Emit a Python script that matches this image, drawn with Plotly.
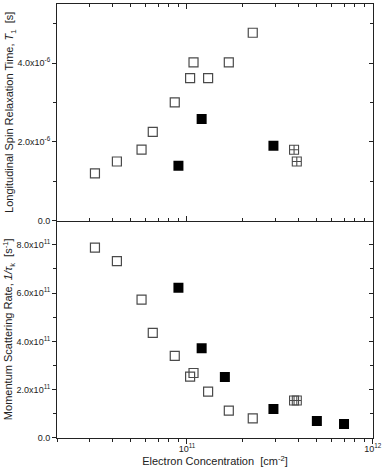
import plotly.graph_objects as go

# electron concentration [cm^-2]
n_open = [3.2e10, 4.2e10, 5.7e10, 6.55e10, 8.6e10, 1.04e11, 1.085e11, 1.3e11, 1.68e11, 2.26e11]
n_filled_t1 = [9.0e10, 1.2e11, 2.92e11]
n_cross = [3.77e11, 3.9e11]
n_filled_rate = [9.0e10, 1.2e11, 1.6e11, 2.92e11, 5.0e11, 7.0e11]

# T1 [s]
t1_open = [1.2e-6, 1.5e-6, 1.8e-6, 2.25e-6, 3.0e-6, 3.62e-6, 4.02e-6, 3.62e-6, 4.02e-6, 4.77e-6]
t1_filled = [1.39e-6, 2.58e-6, 1.9e-6]
t1_cross = [1.8e-6, 1.5e-6]

# 1/tau_k [s^-1]
rate_open = [7.88e11, 7.32e11, 5.73e11, 4.35e11, 3.4e11, 2.54e11, 2.69e11, 1.92e11, 1.13e11, 0.81e11]
rate_filled = [6.22e11, 3.71e11, 2.53e11, 1.2e11, 0.7e11, 0.58e11]
rate_cross = [1.55e11, 1.55e11]

t1_ticks = [0, 2e-6, 4e-6]
t1_labels = ["0.0", "2.0x10<sup>-6</sup>", "4.0x10<sup>-6</sup>"]
rate_ticks = [0, 2e11, 4e11, 6e11, 8e11]
rate_labels = ["0.0"] + ["%.1fx10<sup>11</sup>" % (v / 1e11) for v in rate_ticks[1:]]
x_ticks = [1e11, 1e12]
x_labels = ["10<sup>11</sup>", "10<sup>12</sup>"]
x_minor = [k * 1e10 for k in range(2, 10)] + [k * 1e11 for k in range(2, 10)]

INK = "#222222"
EDGE = "#4a4a4a"

def open_sq(x, y, xa, ya):
    return go.Scatter(x=x, y=y, xaxis=xa, yaxis=ya, mode="markers",
                      marker=dict(symbol="square-open", size=9, color=EDGE, line=dict(width=1.2)))

def filled_sq(x, y, xa, ya):
    return go.Scatter(x=x, y=y, xaxis=xa, yaxis=ya, mode="markers",
                      marker=dict(symbol="square", size=10, color="black", line=dict(width=0)))

def cross_sq(x, y, xa, ya):
    return go.Scatter(x=x, y=y, xaxis=xa, yaxis=ya, mode="markers",
                      marker=dict(symbol="square-cross-open", size=9, color=EDGE, line=dict(width=1.1)))

fig = go.Figure()
fig.add_trace(open_sq(n_open, t1_open, "x", "y"))
fig.add_trace(filled_sq(n_filled_t1, t1_filled, "x", "y"))
fig.add_trace(cross_sq(n_cross, t1_cross, "x", "y"))
fig.add_trace(open_sq(n_open, rate_open, "x2", "y2"))
fig.add_trace(filled_sq(n_filled_rate, rate_filled, "x2", "y2"))
fig.add_trace(cross_sq(n_cross, rate_cross, "x2", "y2"))
# empty traces so the right-hand axes (inward ticks) get drawn
fig.add_trace(go.Scatter(x=[], y=[], xaxis="x", yaxis="y3", hoverinfo="skip"))
fig.add_trace(go.Scatter(x=[], y=[], xaxis="x2", yaxis="y4", hoverinfo="skip"))

tickfont = dict(family="Liberation Sans, Arial, sans-serif", size=9, color=INK)
titlefont = dict(family="Liberation Sans, Arial, sans-serif", size=11, color=INK)
xrange = [10.301, 12.001]

common_x = dict(type="log", range=xrange, showgrid=False, zeroline=False, automargin=False,
                showline=True, linecolor=INK, linewidth=1,
                tickvals=x_ticks, ticklen=5, tickwidth=1, tickcolor=INK,
                minor=dict(tickvals=x_minor, ticks="inside", ticklen=3, tickcolor=INK))

fig.update_layout(
    width=382, height=473,
    margin=dict(l=57, r=9, t=4, b=35),
    paper_bgcolor="white", plot_bgcolor="white",
    showlegend=False,
    xaxis=dict(common_x, domain=[0, 1], anchor="y", ticks="inside", mirror="ticks",
               showticklabels=False),
    xaxis2=dict(common_x, domain=[0, 1], anchor="y2", ticks="outside",
                minor=dict(tickvals=x_minor, ticks="outside", ticklen=3, tickcolor=INK),
                ticktext=x_labels, tickfont=tickfont, ticklabelstandoff=-3,
                title=dict(text="Electron Concentration  [cm<sup>-2</sup>]", font=titlefont, standoff=0)),
    yaxis=dict(domain=[0.501, 1], anchor="x", range=[0, 5.5e-6], showgrid=False, zeroline=False,
               automargin=False, showline=True, linecolor=INK, linewidth=1,
               ticks="outside", ticklen=4, tickcolor=INK,
               tickvals=t1_ticks, ticktext=t1_labels, tickfont=tickfont,
               minor=dict(tickvals=[1e-6, 3e-6, 5e-6], ticks="outside", ticklen=3, tickcolor=INK),
               title=dict(text="Longitudinal Spin Relaxation Time, <i>T</i><sub>1</sub>  [s]",
                          font=titlefont, standoff=0)),
    yaxis3=dict(overlaying="y", anchor="x", side="right", range=[0, 5.5e-6], showgrid=False,
                zeroline=False, automargin=False, showline=True, linecolor=INK, linewidth=1,
                ticks="inside", ticklen=4, tickcolor=INK, tickvals=t1_ticks, showticklabels=False,
                minor=dict(tickvals=[1e-6, 3e-6, 5e-6], ticks="inside", ticklen=3, tickcolor=INK)),
    yaxis2=dict(domain=[0, 0.501], anchor="x2", range=[0, 9.0e11], showgrid=False, zeroline=False,
                automargin=False, showline=True, linecolor=INK, linewidth=1,
                ticks="outside", ticklen=4, tickcolor=INK,
                tickvals=rate_ticks, ticktext=rate_labels, tickfont=tickfont,
                minor=dict(tickvals=[1e11, 3e11, 5e11, 7e11], ticks="outside", ticklen=3, tickcolor=INK),
                title=dict(text="Momentum Scattering Rate, <i>1/τ</i><sub>k</sub>  [s<sup>-1</sup>]",
                           font=titlefont, standoff=0)),
    yaxis4=dict(overlaying="y2", anchor="x2", side="right", range=[0, 9.0e11], showgrid=False,
                zeroline=False, automargin=False, showline=True, linecolor=INK, linewidth=1,
                ticks="inside", ticklen=4, tickcolor=INK, tickvals=rate_ticks, showticklabels=False,
                minor=dict(tickvals=[1e11, 3e11, 5e11, 7e11], ticks="inside", ticklen=3, tickcolor=INK)),
)

# the page's default body margin shifts the figure; drop it
fig.write_html("out.html", config={"displayModeBar": False},
               post_script="document.body.style.margin='0';")
